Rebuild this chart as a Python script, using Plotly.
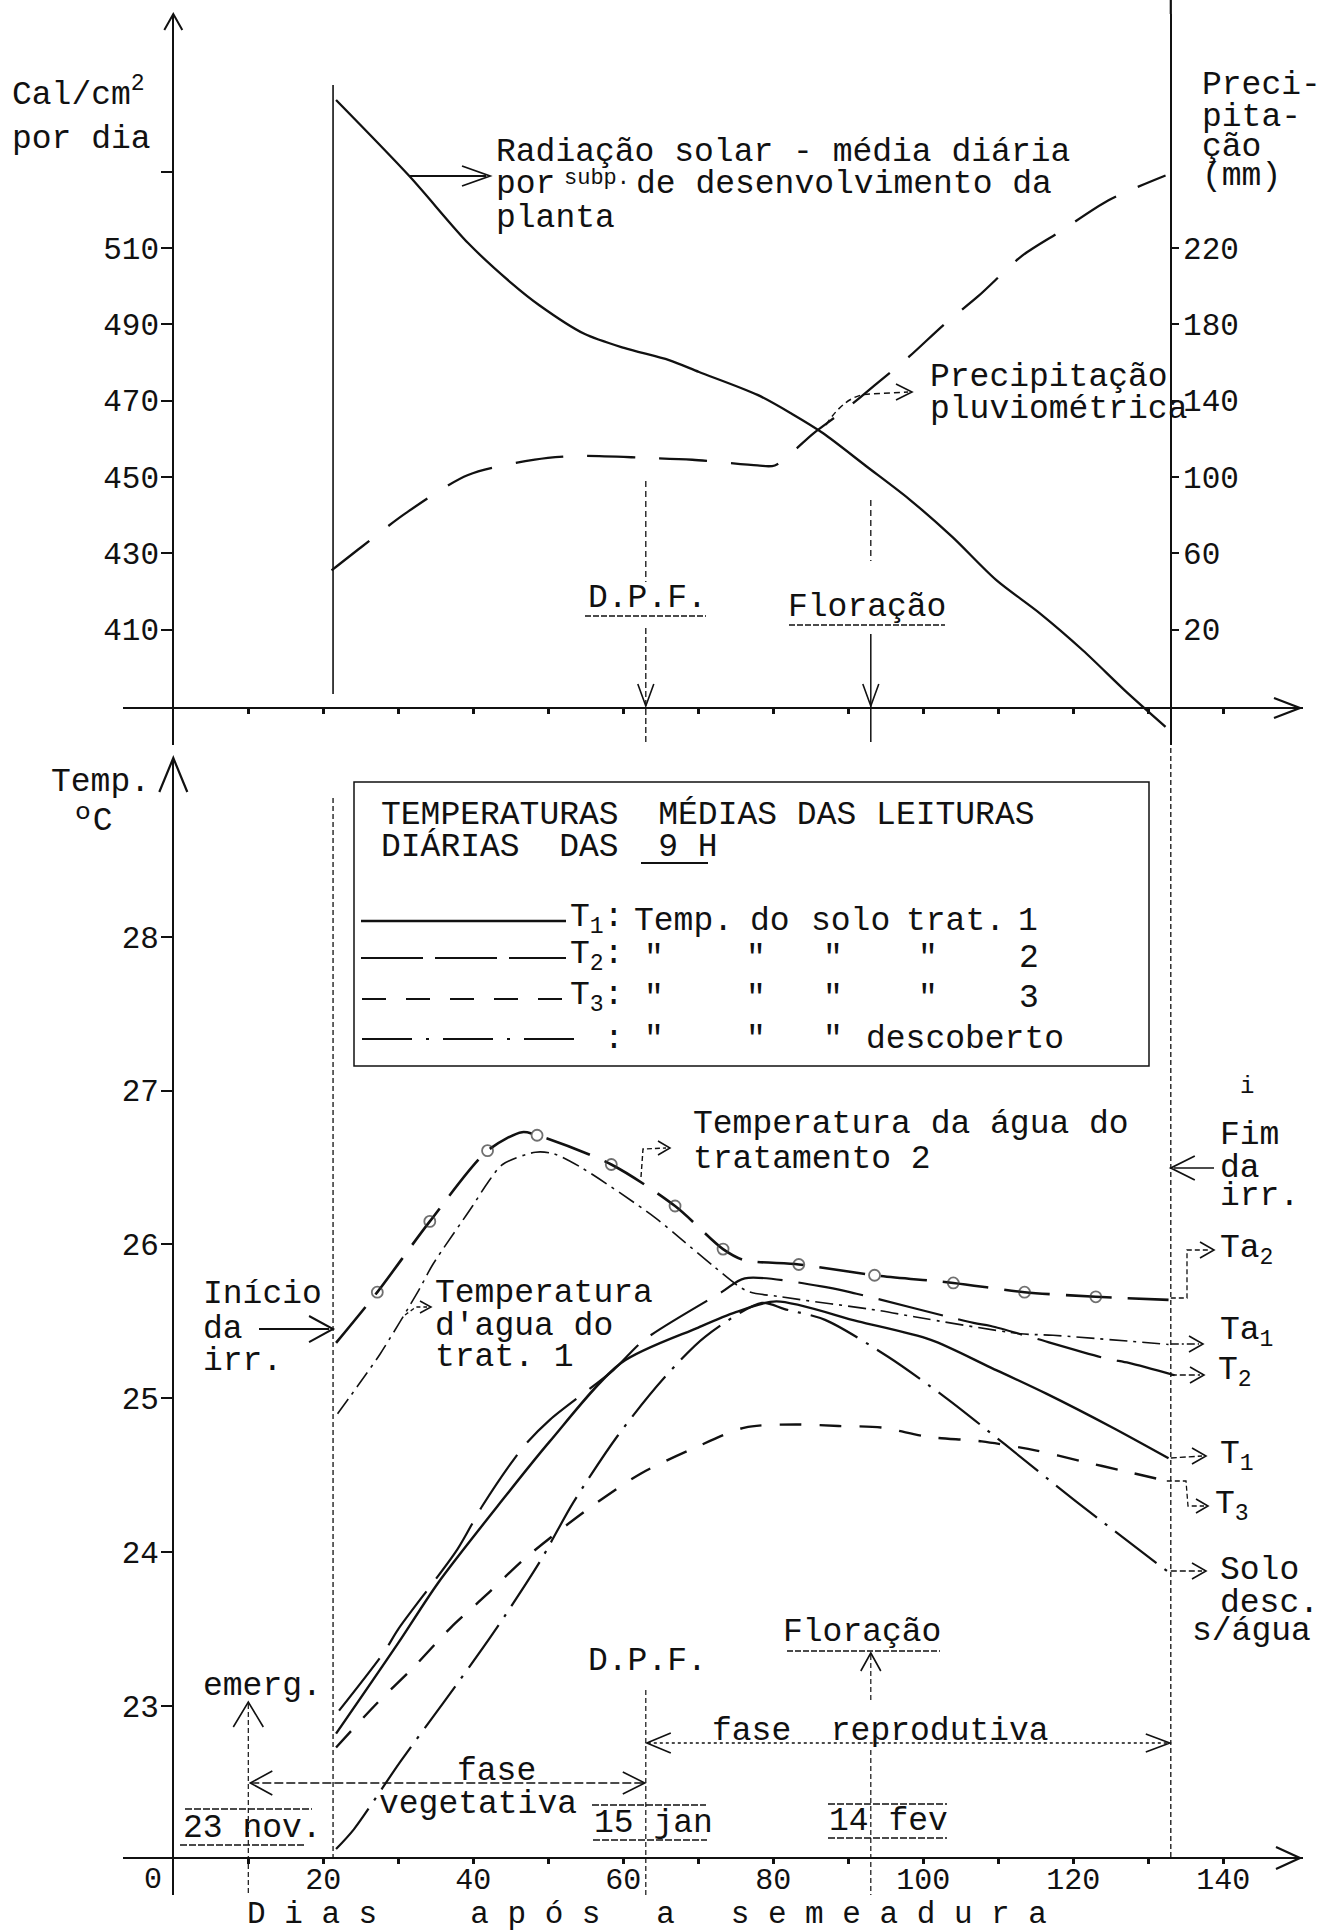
import plotly.graph_objects as go

# ------------------------------------------------------------------ data
# top panel: solar radiation (cal/cm2/day) and rainfall (mm)
RAD_DAYS = [21.7, 31.5, 39.3, 45.2, 48.8, 54.8, 60.1, 66.1, 70.1, 77.9, 82.5, 86.6,
            92.4, 98.1, 103.9, 109.7, 115.5, 121.3, 127.0, 132.3]
RAD_CAL = [548.8, 528.8, 511.3, 500.6, 495.0, 487.5, 483.8, 480.6, 477.5, 471.5, 466.5,
           461.5, 452.8, 444.2, 434.2, 423.0, 414.3, 404.5, 393.8, 384.5]

PREC_DAYS = [21.1, 25.0, 31.0, 39.3, 48.2, 54.1, 63.0, 69.2, 77.9, 80.2, 85.4, 89.5,
             93.5, 98.1, 102.8, 107.4, 113.2, 118.4, 124.7, 132.3]
PREC_MM = [51, 63, 81, 101, 109, 111, 110, 109, 106, 106, 123, 135, 148, 163, 180,
           195, 216, 229, 245, 258]

# bottom panel: temperatures (ºC)
T1_DAYS = [21.7, 30.0, 35.3, 43.9, 50.2, 59.7, 70.0, 75.0, 80.4, 91.3, 101.0, 109.0,
           116.4, 125.2, 132.7]
T1_TEMP = [22.82, 23.41, 23.80, 24.34, 24.72, 25.23, 25.46, 25.56, 25.63, 25.50, 25.38,
           25.20, 25.03, 24.81, 24.61]

T2_DAYS = [22.1, 28.1, 30.0, 37.9, 41.2, 46.6, 50.2, 58.6, 62.8, 73.1, 76.2, 87.4, 91.1,
           106.7, 109.0, 124.3, 127.4, 133.5]
T2_TEMP = [22.97, 23.35, 23.50, 24.02, 24.30, 24.68, 24.86, 25.18, 25.38, 25.69, 25.78,
           25.72, 25.68, 25.49, 25.47, 25.26, 25.23, 25.15]

T3_DAYS = [21.7, 27.0, 32.0, 37.0, 41.7, 46.9, 55.0, 62.3, 69.6, 76.2, 83.0, 88.7, 94.4,
           100.6, 107.8, 115.1, 121.2, 126.5, 132.7]
T3_TEMP = [22.73, 23.01, 23.25, 23.51, 23.72, 23.96, 24.27, 24.51, 24.68, 24.81, 24.83,
           24.82, 24.81, 24.75, 24.72, 24.66, 24.59, 24.53, 24.46]

SOLO_DAYS = [21.7, 24.1, 30.3, 36.0, 42.6, 48.9, 53.3, 59.3, 65.4, 70.9, 78.5, 81.5, 86.9,
             95.3, 103.1, 110.9, 120.1, 132.7]
SOLO_TEMP = [22.07, 22.20, 22.64, 23.02, 23.47, 23.94, 24.32, 24.76, 25.13, 25.40, 25.62,
             25.58, 25.51, 25.27, 25.00, 24.70, 24.34, 23.87]

TA1_DAYS = [21.9, 23.7, 25.6, 27.6, 32.7, 34.6, 39.9, 41.9, 43.9, 48.3, 50.7, 54.4, 64.1,
            67.6, 72.0, 76.4, 81.0, 94.2, 98.8, 112.9, 117.3, 132.7]
TA1_TEMP = [24.90, 25.02, 25.15, 25.29, 25.70, 25.87, 26.25, 26.40, 26.52, 26.60, 26.59,
            26.50, 26.18, 26.04, 25.86, 25.70, 25.66, 25.57, 25.53, 25.42, 25.41, 25.35]

TA2_DAYS = [21.7, 27.2, 34.2, 41.9, 46.5, 48.5, 58.4, 66.9, 73.3, 76.0, 83.4, 93.5, 104.0,
            113.5, 123.0, 132.7]
TA2_TEMP = [25.36, 25.69, 26.15, 26.61, 26.73, 26.71, 26.52, 26.25, 25.97, 25.90, 25.87,
            25.80, 25.75, 25.69, 25.66, 25.64]

# ticks
CAL_TICKS = [410, 430, 450, 470, 490, 510]
CAL_MINOR = [530]
MM_TICKS = [20, 60, 100, 140, 180, 220]
TEMP_TICKS = [23, 24, 25, 26, 27, 28]
DAY_LABEL_TICKS = [20, 40, 60, 80, 100, 120, 140]
DAY_MINOR_TICKS = [10, 30, 50, 70, 90, 110, 130]

# phenology / irrigation events (days after sowing)
DAY_EMERG = 10
DAY_IRR_START = 21.3
DAY_DPF = 63
DAY_FLOR = 93
DAY_IRR_END = 133

# ------------------------------------------------------------------ geometry
W, H = 1330, 1932
ML, MR = 123, 27
PW = W - ML - MR
PX_PER_DAY = 7.5
DAY0_PX = 173.3
XR = [-(DAY0_PX - ML) / PX_PER_DAY, -(DAY0_PX - ML) / PX_PER_DAY + PW / PX_PER_DAY]
FONT = "Liberation Mono, Courier New, monospace"
INK = "#111111"
FS = 33


def xp(px):
    return (px - ML) / PW


def yp(py):
    return (H - py) / H


def dx(day):
    return (day - XR[0]) / (XR[1] - XR[0])


def dpx(day):
    return ML + dx(day) * PW


# pixel calibration of the value axes
CAL_A, CAL_PA, CAL_B, CAL_PB = 510, 248.0, 410, 629.5
cal_per_px = (CAL_A - CAL_B) / (CAL_PB - CAL_PA)


def cal_at(py):
    return CAL_A - (py - CAL_PA) * cal_per_px


T_A, T_PA, T_B, T_PB = 28, 936.8, 23, 1706.0
t_per_px = (T_A - T_B) / (T_PB - T_PA)


def t_at(py):
    return T_A - (py - T_PA) * t_per_px


TOP_BOT, TOP_TOP = 745, 14
BOT_BOT, BOT_TOP = 1895, 758

fig = go.Figure()

# ---------------- top traces
fig.add_trace(go.Scatter(x=RAD_DAYS, y=RAD_CAL, mode="lines", xaxis="x", yaxis="y",
                         line=dict(color=INK, width=2.3, shape="spline", smoothing=0.8),
                         showlegend=False, hoverinfo="skip"))
fig.add_trace(go.Scatter(x=PREC_DAYS, y=PREC_MM, mode="lines", xaxis="x", yaxis="y2",
                         line=dict(color=INK, width=2.3, shape="spline", smoothing=0.8,
                                   dash="48px,24px"),
                         showlegend=False, hoverinfo="skip"))


# ---------------- bottom traces
def tline(xs, ys, dash, width=2.2, **kw):
    fig.add_trace(go.Scatter(x=xs, y=ys, xaxis="x2", yaxis="y3", showlegend=False,
                             hoverinfo="skip",
                             line=dict(color=INK, width=width, dash=dash, shape="spline",
                                       smoothing=0.8), **kw))


tline(T1_DAYS, T1_TEMP, "solid", 2.4, mode="lines")
tline(T2_DAYS, T2_TEMP, "66px,16px", 2.2, mode="lines")
tline(T3_DAYS, T3_TEMP, "22px,18px", 2.4, mode="lines")
tline(SOLO_DAYS, SOLO_TEMP, "52px,10px,3px,10px", 2.2, mode="lines")
tline(TA1_DAYS, TA1_TEMP, "18px,6px,3px,6px", 1.6, mode="lines")
ta2_circles = {1, 2, 3, 5, 6, 7, 8, 10, 11, 12, 13, 14}
tline(TA2_DAYS, TA2_TEMP, "46px,16px", 2.6, mode="lines+markers",
      marker=dict(symbol="circle-open", color="#333333", line=dict(width=1.8),
                  size=[11 if i in ta2_circles else 0 for i in range(len(TA2_DAYS))]))

# ------------------------------------------------------------------ axes
tickfont = dict(family=FONT, size=31, color=INK)
common = dict(showgrid=False, zeroline=False, linecolor=INK, tickcolor=INK, showline=True)


def minor(vals, ln=5, wd=2.5):
    return dict(tickmode="array", tickvals=vals, ticks="outside", ticklen=ln,
                tickwidth=wd, tickcolor=INK, showgrid=False)


fig.update_layout(
    width=W, height=H, margin=dict(l=ML, r=MR, t=0, b=0),
    paper_bgcolor="white", plot_bgcolor="white", showlegend=False,
    font=dict(family=FONT, color=INK, size=FS),
    xaxis=dict(domain=[0, 1], range=XR, anchor="free", position=yp(708),
               linewidth=2.4, ticks="outside", ticklen=5, tickwidth=2.5,
               tickmode="array", tickvals=DAY_LABEL_TICKS, showticklabels=False,
               minor=minor(DAY_MINOR_TICKS), **common),
    yaxis=dict(domain=[yp(TOP_BOT), yp(TOP_TOP)],
               range=[cal_at(TOP_BOT), cal_at(TOP_TOP)], anchor="free", position=dx(0),
               linewidth=2.2, ticks="outside", ticklen=11, tickwidth=2,
               tickmode="array", tickvals=CAL_TICKS, ticktext=[str(v) for v in CAL_TICKS],
               ticklabelstandoff=-4, minor=minor(CAL_MINOR, 11, 2),
               tickfont=tickfont, **common),
    yaxis2=dict(overlaying="y", side="right", anchor="free", position=dx(DAY_IRR_END),
                range=[2 * (cal_at(TOP_BOT) - 400), 2 * (cal_at(TOP_TOP) - 400)],
                linewidth=2.2, ticks="outside", ticklen=7, tickwidth=2,
                tickmode="array", tickvals=MM_TICKS, ticktext=[str(v) for v in MM_TICKS],
                ticklabelstandoff=-2, tickfont=tickfont, **common),
    xaxis2=dict(domain=[0, 1], range=XR, anchor="free", position=yp(1858),
                linewidth=2.4, ticks="outside", ticklen=5, tickwidth=2.5,
                tickmode="array", tickvals=DAY_LABEL_TICKS,
                ticktext=[str(v) for v in DAY_LABEL_TICKS], ticklabelstandoff=-11,
                minor=minor(DAY_MINOR_TICKS), tickfont=dict(family=FONT, size=30, color=INK),
                **common),
    yaxis3=dict(domain=[yp(BOT_BOT), yp(BOT_TOP)],
                range=[t_at(BOT_BOT), t_at(BOT_TOP)], anchor="free", position=dx(0),
                linewidth=2.4, ticks="outside", ticklen=11, tickwidth=2,
                tickmode="array", tickvals=TEMP_TICKS,
                ticktext=[str(v) for v in TEMP_TICKS], ticklabelstandoff=-4,
                tickfont=tickfont, **common),
)

# ------------------------------------------------------------------ decorations
shapes = []
annots = []


def seg(x0, y0, x1, y1, width=1.6, dash="solid"):
    shapes.append(dict(type="line", xref="paper", yref="paper", x0=xp(x0), y0=yp(y0),
                       x1=xp(x1), y1=yp(y1), line=dict(color=INK, width=width, dash=dash)))


def poly(pts, width=1.6, dash="solid"):
    d = "M " + " L ".join(f"{xp(a):.5f},{yp(b):.5f}" for a, b in pts)
    shapes.append(dict(type="path", xref="paper", yref="paper", path=d,
                       line=dict(color=INK, width=width, dash=dash)))


def chev(x, y, direction, L=16, h=9, width=1.8):
    if direction == "r":
        pts = [(x - L, y - h), (x, y), (x - L, y + h)]
    elif direction == "l":
        pts = [(x + L, y - h), (x, y), (x + L, y + h)]
    elif direction == "u":
        pts = [(x - h, y + L), (x, y), (x + h, y + L)]
    else:
        pts = [(x - h, y - L), (x, y), (x + h, y - L)]
    poly(pts, width)


def txt(s, x, y, anchor="left", size=FS):
    s = s.replace(" ", "\u00a0")
    annots.append(dict(text=s, x=xp(x), y=yp(y), xref="paper", yref="paper",
                       xanchor=anchor, yanchor="middle", showarrow=False,
                       font=dict(family=FONT, size=size, color=INK)))


X0 = dpx(0)
XS = dpx(DAY_IRR_START)
XE = dpx(DAY_IRR_END)
XD = dpx(DAY_DPF)
XF = dpx(DAY_FLOR)
XM = dpx(DAY_EMERG)

# ---- top panel
chev(X0, TOP_TOP, "u", 16, 9, 2.0)                 # y-axis arrow
seg(XE, 0, XE, TOP_TOP, 2.2)                       # right axis to top edge
chev(1300, 708, "r", 26, 10, 2.2)                  # x-axis arrow
seg(XS, 85, XS, 694, 1.6)                          # start of irrigation (top)
seg(XD, 481, XD, 582, 1.3, "6px,4px")              # D.P.F. marker
seg(XD, 628, XD, 745, 1.3, "6px,3px")
chev(XD, 706, "d", 22, 8, 1.6)
seg(XF, 500, XF, 561, 1.3, "6px,4px")              # Floração marker
seg(XF, 634, XF, 742, 1.5)
chev(XF, 706, "d", 22, 8, 1.6)
seg(585, 616, 706, 616, 1.6, "6px,2px")            # underlines
seg(789, 625, 945, 625, 1.6, "6px,2px")
seg(410, 176, 486, 176, 2.0)                       # radiation arrow
chev(490, 176, "r", 28, 10, 1.8)
shapes.append(dict(type="path", xref="paper", yref="paper",
                   path=f"M {xp(826)},{yp(425)} Q {xp(846)},{yp(394)} {xp(870)},{yp(394)} "
                        f"L {xp(908)},{yp(392)}",
                   line=dict(color=INK, width=1.5, dash="6px,4px")))
chev(912, 392, "r", 16, 8, 1.6)

txt("Cal/cm<sup>2</sup>", 10, 92)
txt("por dia", 10, 139)
txt("Radiação solar - média diária", 494, 152)
txt("por", 494, 185)
txt("subp.", 562, 178, size=22)
txt("de desenvolvimento da", 634, 185)
txt("planta", 494, 218)
txt("Preci-", 1200, 85)
txt("pita-", 1200, 118)
txt("ção", 1200, 148)
txt("(mm)", 1200, 177)
txt("Precipitação", 928, 378)
txt("pluviométrica", 928, 410)
txt("D.P.F.", XD + 2, 598, "center")
txt("Floração", 867, 607, "center")

# ---- bottom panel
chev(X0, BOT_TOP, "u", 34, 14, 2.2)                # y-axis arrow
chev(1300, 1858, "r", 24, 11, 2.2)                 # x-axis arrow
seg(XS, 798, XS, 1858, 1.3, "5px,3px")             # start of irrigation
seg(XE, 740, XE, 1858, 1.3, "5px,3px")             # end of irrigation

# legend box
shapes.append(dict(type="rect", xref="paper", yref="paper", x0=xp(354), y0=yp(782),
                   x1=xp(1149), y1=yp(1066), line=dict(color=INK, width=1.5)))
seg(361, 921, 566, 921, 2.6)
seg(361, 958, 566, 958, 2.0, "62px,12px")
seg(362, 999, 566, 999, 2.2, "24px,20px")
seg(362, 1039, 582, 1039, 2.0, "50px,14px,3px,14px")
txt("TEMPERATURAS  MÉDIAS DAS LEITURAS", 379, 815)
txt("DIÁRIAS  DAS  9 H", 379, 847)
seg(641, 863, 708, 863, 1.8)
row_y = [921, 958, 999, 1039]
for i, lab in enumerate(["T<sub>1</sub>:", "T<sub>2</sub>:", "T<sub>3</sub>:"]):
    txt(lab, 568, row_y[i] - 2)
txt(":", 602, row_y[3])
txt("Temp.", 632, row_y[0])
txt("do", 748, row_y[0])
txt("solo", 809, row_y[0])
txt("trat.", 904, row_y[0])
txt("1", 1028, row_y[0], "center")
for r in (1, 2, 3):
    for cx in (654, 756, 833):
        txt('"', cx, row_y[r], "center")
for r, num in ((1, "2"), (2, "3")):
    txt('"', 928, row_y[r], "center")
    txt(num, 1029, row_y[r], "center")
txt("descoberto", 864, row_y[3])

# curve annotations
txt("Temperatura da água do", 691, 1124)
txt("tratamento 2", 691, 1159)
poly([(641, 1177), (643, 1149), (666, 1148)], 1.4, "5px,3px")
chev(670, 1148, "r", 12, 7, 1.5)

txt("Início", 201, 1294)
txt("da", 201, 1329)
txt("irr.", 201, 1361)
seg(259, 1329, XS - 4, 1329, 2.2)
chev(XS, 1329, "r", 24, 13, 2.0)

txt("Temperatura", 433, 1293)
txt("d'agua do", 433, 1326)
txt("trat. 1", 433, 1357)
poly([(405, 1315), (416, 1307), (427, 1307)], 1.3, "4px,3px")
chev(431, 1307, "r", 11, 6, 1.5)

txt("i", 1247, 1086, "center", 24)
txt("Fim", 1218, 1135)
txt("da", 1218, 1168)
txt("irr.", 1218, 1196)
seg(1214, 1168, XE + 3, 1168, 1.5)
chev(XE, 1168, "l", 24, 12, 1.8)

txt("Ta<sub>2</sub>", 1218, 1250)
poly([(XE, 1298), (1187, 1298), (1187, 1250), (1210, 1250)], 1.3, "5px,3px")
chev(1214, 1250, "r", 14, 8, 1.6)
txt("Ta<sub>1</sub>", 1218, 1332)
seg(XE, 1344, 1199, 1344, 1.5, "8px,3px,2px,3px")
chev(1203, 1344, "r", 14, 8, 1.6)
txt("T<sub>2</sub>", 1216, 1372)
seg(XE, 1375, 1200, 1375, 1.4, "6px,3px")
chev(1204, 1375, "r", 14, 8, 1.6)
txt("T<sub>1</sub>", 1218, 1456)
seg(XE, 1458, 1202, 1456, 1.4, "6px,3px")
chev(1206, 1456, "r", 14, 8, 1.6)
txt("T<sub>3</sub>", 1213, 1506)
poly([(XE - 4, 1481), (1186, 1481), (1188, 1506), (1204, 1506)], 1.3, "5px,3px")
chev(1208, 1506, "r", 12, 7, 1.6)
txt("Solo", 1218, 1570)
txt("desc.", 1218, 1603)
txt("s/água", 1190, 1631)
seg(XE, 1571, 1202, 1571, 1.4, "6px,3px")
chev(1206, 1571, "r", 14, 8, 1.6)

# phenology markers
txt("Floração", 862, 1632, "center")
seg(787, 1651, 940, 1651, 1.6, "6px,2px")
chev(XF, 1653, "u", 18, 10, 1.6)
seg(XF, 1655, XF, 1700, 1.2, "5px,3px")
seg(XF, 1750, XF, 1895, 1.2, "5px,3px")

txt("D.P.F.", 647, 1661, "center")
seg(XD, 1690, XD, 1895, 1.2, "5px,3px")

txt("emerg.", 201, 1686)
chev(XM, 1702, "u", 25, 15, 1.6)
seg(XM, 1704, XM, 1895, 1.2, "5px,3px")

txt("fase  reprodutiva", 710, 1731)
seg(XD + 2, 1743, XE - 2, 1743, 1.3, "3px,3px")
chev(XD + 1, 1743, "l", 24, 10, 1.6)
chev(XE - 1, 1743, "r", 24, 9, 1.6)

txt("fase", 455, 1771)
txt("vegetativa", 377, 1804)
seg(XM + 2, 1783, XD - 2, 1783, 1.4, "9px,3px")
chev(XM + 2, 1783, "l", 22, 12, 1.6)
chev(XD - 1, 1783, "r", 22, 11, 1.6)

txt("23 nov.", 181, 1828)
seg(185, 1809, 312, 1809, 1.6, "7px,2px")
seg(180, 1845, 306, 1845, 1.6, "7px,2px")
txt("15 jan", 592, 1823)
seg(592, 1805, 706, 1805, 1.6, "7px,2px")
seg(593, 1840, 707, 1840, 1.6, "7px,2px")
txt("14 fev", 827, 1821)
seg(828, 1804, 947, 1804, 1.6, "7px,2px")
seg(828, 1838, 947, 1838, 1.6, "7px,2px")

# axis extras
txt("Temp.", 49, 782)
txt("ºC", 71, 822)
txt("0", X0 - 20, 1880, "center", 30)
txt("D i a s     a p ó s   a   s e m e a d u r a", 245, 1914, size=31)

fig.update_layout(shapes=shapes, annotations=annots)
fig.write_html("out.html", post_script="document.body.style.margin='0px';",
               config={"displayModeBar": False})
